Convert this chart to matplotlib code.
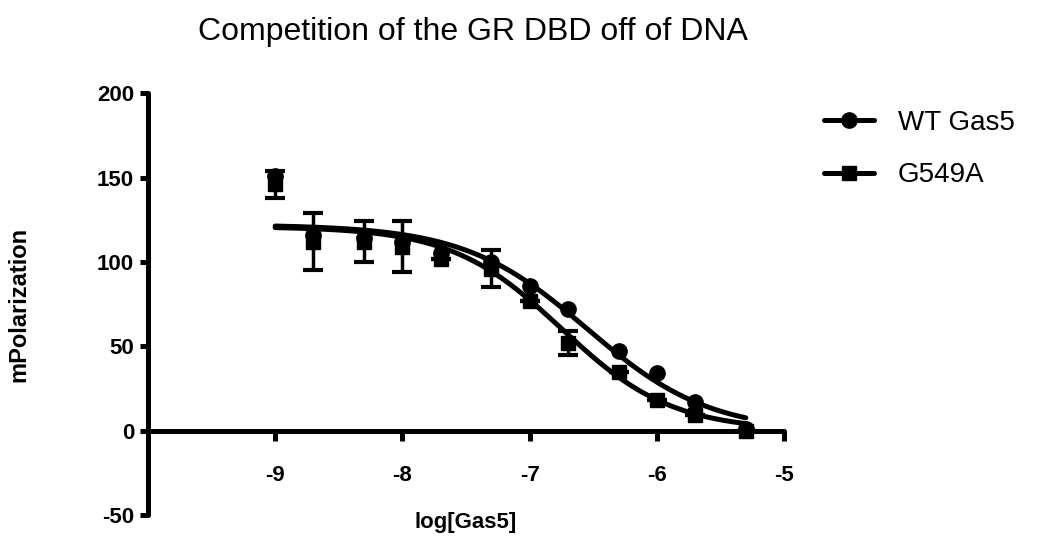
import numpy as np
import matplotlib
matplotlib.use("Agg")
import matplotlib.pyplot as plt

plt.rcParams['font.family'] = ['Liberation Sans', 'DejaVu Sans']
plt.rcParams['axes.unicode_minus'] = False

# ---------------- data ----------------
log_conc = [-9.0, -8.7, -8.3, -8.0, -7.7, -7.3, -7.0, -6.7, -6.3, -6.0, -5.7, -5.3]

wt_mean = [151, 116, 114, 112, 105, 100, 86, 72, 47, 34, 17, 1]
wt_err = [2, 2, 2, 2, 2, 2, 2, 2, 2, 2, 2, 1]

g549a_mean = [146, 112, 112, 109, 102, 96, 77, 52, 35, 18, 9, 0]
g549a_err = [8, 17, 12, 15, 0, 11, 0, 7, 0, 0, 0, 0]

# sigmoidal fit parameters (top, bottom, logIC50, hill)
wt_fit = [122, -1, -6.55, 0.9]
g549a_fit = [121, 0, -6.75, 1.0]

series_names = ['WT Gas5', 'G549A']
xticks = [-9, -8, -7, -6, -5]
yticks = [-50, 0, 50, 100, 150, 200]


def dose_response(x, p):
    top, bottom, logic50, hill = p
    return bottom + (top - bottom) / (1 + 10 ** ((x - logic50) * hill))


fig = plt.figure(figsize=(10.4, 5.37), dpi=100)
ax = fig.add_axes([0.1423, 0.0410, 0.6115, 0.7855])

xfit = np.linspace(log_conc[0], log_conc[-1], 200)
lw = 3.6

ax.plot(xfit, dose_response(xfit, wt_fit), color='black', lw=lw,
        solid_capstyle='round', zorder=3)
ax.plot(xfit, dose_response(xfit, g549a_fit), color='black', lw=lw,
        solid_capstyle='round', zorder=3)

ax.errorbar(log_conc, g549a_mean, yerr=g549a_err, fmt='s', color='black',
            ms=10, elinewidth=2.5, capsize=7, capthick=3, zorder=4)
ax.errorbar(log_conc, wt_mean, yerr=wt_err, fmt='o', color='black',
            ms=11, elinewidth=2.5, capsize=3, capthick=2, zorder=5)

# legend handles
h1, = ax.plot([], [], color='black', lw=lw, marker='o', ms=11,
              solid_capstyle='round')
h2, = ax.plot([], [], color='black', lw=lw, marker='s', ms=10,
              solid_capstyle='round')
fig.legend([h1, h2], series_names, loc='center left',
           bbox_to_anchor=(0.779, 0.722), frameon=False, fontsize=20,
           handlelength=1.8, handletextpad=0.85, labelspacing=0.95,
           borderpad=0)

# axes styling (prism-like)
ax.set_xlim(-10, -5)
ax.set_ylim(-50, 200)
ax.spines['right'].set_visible(False)
ax.spines['top'].set_visible(False)
ax.spines['bottom'].set_position(('data', 0))
for s in ('left', 'bottom'):
    ax.spines[s].set_linewidth(lw)
    ax.spines[s].set_capstyle('round')

ax.set_xticks(xticks)
ax.set_yticks(yticks)
ax.tick_params(axis='y', direction='out', length=6, width=lw, pad=4,
               labelsize=16)
ax.tick_params(axis='x', direction='out', length=7, width=lw, pad=18,
               labelsize=16)
for lab in ax.get_xticklabels() + ax.get_yticklabels():
    lab.set_fontweight('bold')

ax.set_xlabel('log[Gas5]', fontsize=16, fontweight='bold', va='center')
ax.xaxis.set_label_coords(0.5, -0.018)
ax.set_ylabel('mPolarization', fontsize=17, fontweight='bold')
ax.yaxis.set_label_coords(-0.185, 0.5)

fig.text(0.455, 0.94, 'Competition of the GR DBD off of DNA', fontsize=23,
         ha='center', va='center')

fig.savefig('out.png', dpi=100)
